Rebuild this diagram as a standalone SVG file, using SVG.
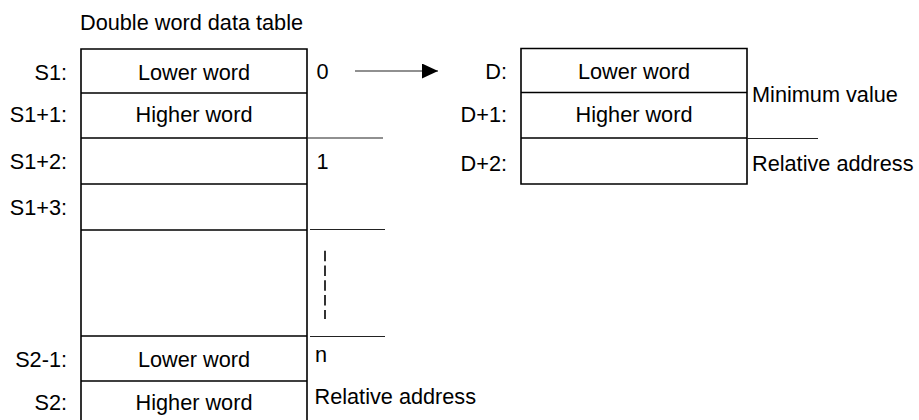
<svg xmlns="http://www.w3.org/2000/svg" width="919" height="420" viewBox="0 0 919 420">
<style>
text{font-family:"Liberation Sans",Arial,sans-serif;font-size:21.7px;fill:#000}
.c{text-anchor:middle}
.r{text-anchor:end}
.b{fill:none;stroke:#000;stroke-width:1.6}
.s{fill:none;stroke:#222;stroke-width:1.1}
.d{fill:none;stroke:#000;stroke-width:1.6;stroke-dasharray:10.5 4.3}
</style>
<defs>
<marker id="ah" markerWidth="16" markerHeight="15" refX="16" refY="7.5" orient="auto" markerUnits="userSpaceOnUse">
<path d="M0,0 L16,7.5 L0,15 Z" fill="#000"/>
</marker>
</defs>
<rect width="919" height="420" fill="#fff"/>
<text x="80" y="30">Double word data table</text>
<g id="source-table">
<path class="b" d="M81,421 V49 H307 V421 M81,93 H307 M81,138 H307 M81,184 H307 M81,230 H307 M81,336 H307 M81,381 H307"/>
<text class="c" x="194" y="80">Lower word</text>
<text class="c" x="194" y="122">Higher word</text>
<text class="c" x="194" y="367">Lower word</text>
<text class="c" x="194" y="410">Higher word</text>
<text class="r" x="67" y="80">S1:</text>
<text class="r" x="67" y="122">S1+1:</text>
<text class="r" x="67" y="169">S1+2:</text>
<text class="r" x="67" y="215">S1+3:</text>
<text class="r" x="67" y="367">S2-1:</text>
<text class="r" x="67" y="410">S2:</text>
</g>
<g id="relative-index">
<path class="s" d="M307,138 H383 M310,229.5 H385 M310,336.5 H385"/>
<path class="d" d="M325,250.7 V319"/>
<text x="316.5" y="79">0</text>
<text x="316.5" y="169">1</text>
<text x="315" y="362">n</text>
<text x="314.5" y="404">Relative address</text>
</g>
<g id="dest-table">
<path class="b" d="M521,48.5 H747 V184 H521 Z M521,92.5 H747 M521,138 H747"/>
<text class="c" x="634" y="79">Lower word</text>
<text class="c" x="634" y="122">Higher word</text>
<text class="r" x="507" y="79">D:</text>
<text class="r" x="507" y="122">D+1:</text>
<text class="r" x="507" y="171">D+2:</text>
<path class="s" d="M747,138.5 H818"/>
<text x="752" y="101.5">Minimum value</text>
<text x="752" y="171">Relative address</text>
</g>
<g id="connectors">
<path class="s" d="M355,71 H438" stroke="#000" marker-end="url(#ah)"/>
</g>
</svg>
